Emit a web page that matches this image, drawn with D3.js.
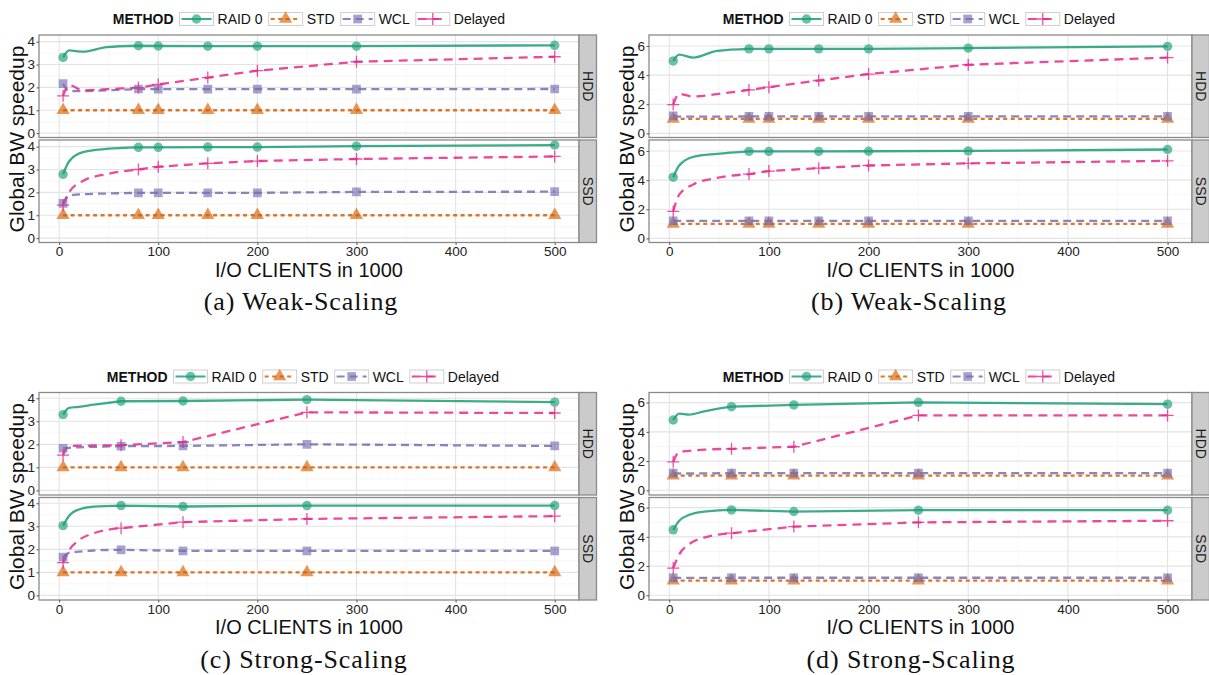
<!DOCTYPE html>
<html>
<head>
<meta charset="utf-8">
<script src="https://cdn.jsdelivr.net/npm/d3@7"></script>
<style>
  body { margin: 0; background: #fff; }
  text { font-family: "Liberation Sans", Arial, sans-serif; }
</style>
</head>
<body>
<div id="visualization"></div>
<script>
const methods = ["RAID 0", "STD", "WCL", "Delayed"];
const devices = ["HDD", "SSD"];

// x values in 1000 clients; marks = where the points are drawn
const weakX = [4, 10, 24, 48, 80, 100, 150, 200, 300, 500];
const weakMarks = [4, 80, 100, 150, 200, 300, 500];
const strongX = [4, 10, 20, 35, 62.5, 125, 250, 500];
const strongMarks = [4, 62.5, 125, 250, 500];
const xTicks = [0, 100, 200, 300, 400, 500];
const yTicks4 = [0, 1, 2, 3, 4];
const yTicks6 = [0, 2, 4, 6];

// (a) weak scaling
const aHddRaid    = [3.31, 3.62, 3.56, 3.76, 3.82, 3.81, 3.80, 3.80, 3.80, 3.84];
const aHddStd     = [1, 1, 1, 1, 1, 1, 1, 1, 1, 1];
const aHddWcl     = [2.16, 1.84, 1.84, 1.87, 1.93, 1.92, 1.92, 1.92, 1.92, 1.93];
const aHddDelayed = [1.63, 2.10, 1.87, 1.92, 1.99, 2.13, 2.43, 2.73, 3.12, 3.34];
const aSsdRaid    = [2.79, 3.35, 3.76, 3.90, 3.97, 3.97, 3.98, 3.98, 4.02, 4.07];
const aSsdStd     = [1, 1, 1, 1, 1, 1, 1, 1, 1, 1];
const aSsdWcl     = [1.52, 1.86, 1.92, 1.95, 1.98, 1.98, 1.98, 1.98, 2.02, 2.03];
const aSsdDelayed = [1.44, 2.00, 2.50, 2.80, 3.00, 3.12, 3.27, 3.37, 3.46, 3.57];

// (b) weak scaling
const bHddRaid    = [4.97, 5.40, 5.20, 5.66, 5.80, 5.80, 5.80, 5.80, 5.85, 5.97];
const bHddStd     = [1, 1, 1, 1, 1, 1, 1, 1, 1, 1];
const bHddWcl     = [1.20, 1.15, 1.15, 1.15, 1.17, 1.17, 1.17, 1.17, 1.17, 1.17];
const bHddDelayed = [1.98, 2.71, 2.53, 2.70, 2.98, 3.17, 3.63, 4.07, 4.71, 5.20];
const bSsdRaid    = [4.20, 5.00, 5.60, 5.80, 5.97, 5.97, 5.97, 5.98, 6.00, 6.10];
const bSsdStd     = [1, 1, 1, 1, 1, 1, 1, 1, 1, 1];
const bSsdWcl     = [1.20, 1.20, 1.20, 1.20, 1.20, 1.20, 1.20, 1.20, 1.20, 1.20];
const bSsdDelayed = [1.85, 3.00, 3.70, 4.15, 4.41, 4.62, 4.82, 5.00, 5.15, 5.32];

// (c) strong scaling
const cHddRaid    = [3.29, 3.58, 3.63, 3.72, 3.87, 3.88, 3.94, 3.83];
const cHddStd     = [1, 1, 1, 1, 1, 1, 1, 1];
const cHddWcl     = [1.83, 1.85, 1.87, 1.89, 1.92, 1.93, 2.00, 1.93];
const cHddDelayed = [1.53, 1.93, 1.94, 1.95, 1.96, 2.10, 3.39, 3.36];
const cSsdRaid    = [3.03, 3.45, 3.73, 3.85, 3.90, 3.86, 3.90, 3.90];
const cSsdStd     = [1, 1, 1, 1, 1, 1, 1, 1];
const cSsdWcl     = [1.66, 1.85, 1.90, 1.95, 1.98, 1.93, 1.93, 1.93];
const cSsdDelayed = [1.42, 1.95, 2.40, 2.70, 2.92, 3.18, 3.32, 3.44];

// (d) strong scaling
const dHddRaid    = [4.81, 5.25, 5.18, 5.40, 5.72, 5.84, 6.02, 5.89];
const dHddStd     = [1, 1, 1, 1, 1, 1, 1, 1];
const dHddWcl     = [1.18, 1.15, 1.15, 1.16, 1.17, 1.18, 1.18, 1.18];
const dHddDelayed = [1.95, 2.63, 2.70, 2.78, 2.84, 2.98, 5.12, 5.12];
const dSsdRaid    = [4.48, 5.10, 5.50, 5.72, 5.84, 5.73, 5.82, 5.82];
const dSsdStd     = [1, 1, 1, 1, 1, 1, 1, 1];
const dSsdWcl     = [1.20, 1.20, 1.20, 1.20, 1.20, 1.20, 1.20, 1.20];
const dSsdDelayed = [1.86, 2.80, 3.50, 3.95, 4.25, 4.70, 4.99, 5.10];

const colors = ["#1b9e77", "#d95f02", "#7570b3", "#e7298a"];
const dashes = [null, "4,3.5", "8,5", "9,6"];

const panels = [
    {caption: "(a) Weak-Scaling", xs: weakX, marks: weakMarks, yTicks: yTicks4, yDomain: [-0.19, 4.29],
     HDD: [aHddRaid, aHddStd, aHddWcl, aHddDelayed], SSD: [aSsdRaid, aSsdStd, aSsdWcl, aSsdDelayed],
     left: 39, width: 540, top: 0, legendX: 312, capX: 301},
    {caption: "(b) Weak-Scaling", xs: weakX, marks: weakMarks, yTicks: yTicks6, yDomain: [-0.28, 6.75],
     HDD: [bHddRaid, bHddStd, bHddWcl, bHddDelayed], SSD: [bSsdRaid, bSsdStd, bSsdWcl, bSsdDelayed],
     left: 649, width: 543, top: 0, legendX: 922, capX: 909},
    {caption: "(c) Strong-Scaling", xs: strongX, marks: strongMarks, yTicks: yTicks4, yDomain: [-0.2, 4.25],
     HDD: [cHddRaid, cHddStd, cHddWcl, cHddDelayed], SSD: [cSsdRaid, cSsdStd, cSsdWcl, cSsdDelayed],
     left: 39, width: 540, top: 357.5, legendX: 306, capX: 304},
    {caption: "(d) Strong-Scaling", xs: strongX, marks: strongMarks, yTicks: yTicks6, yDomain: [-0.32, 6.69],
     HDD: [dHddRaid, dHddStd, dHddWcl, dHddDelayed], SSD: [dSsdRaid, dSsdStd, dSsdWcl, dSsdDelayed],
     left: 649, width: 543, top: 357.5, legendX: 922, capX: 911}
];

const width = 1209;
const height = 675;
const facetTop = [35, 140];
const facetH = 102.5;
const stripW = 17.5;

const svg = d3.select("#visualization")
    .append("svg")
    .attr("width", width)
    .attr("height", height);

function drawMarker(g, shape, color, x, y) {
    if (shape === 3) {
        g.append("path")
            .attr("d", `M${x - 6},${y}H${x + 6}M${x},${y - 6}V${y + 6}`)
            .attr("stroke", color).attr("stroke-width", 1.3).attr("opacity", 0.8);
        return;
    }
    const sym = [d3.symbolCircle, d3.symbolTriangle, d3.symbolSquare][shape];
    const size = [70, 76, 76][shape];
    g.append("path")
        .attr("d", d3.symbol().type(sym).size(size)())
        .attr("transform", `translate(${x},${y})`)
        .attr("fill", color)
        .attr("opacity", 0.65);
}

function drawLegend(cx, cy) {
    const lg = svg.append("g");
    let pos = 0;
    const title = lg.append("text").text("METHOD")
        .attr("x", pos).attr("y", cy + 5)
        .attr("font-size", 14).attr("font-weight", "bold").attr("fill", "#111");
    pos += title.node().getComputedTextLength() + 6;
    methods.forEach((m, i) => {
        lg.append("rect").attr("x", pos).attr("y", cy - 6.5)
            .attr("width", 34).attr("height", 13)
            .attr("fill", "#fff").attr("stroke", "#cfcfcf").attr("stroke-width", 1);
        lg.append("line").attr("x1", pos + 2).attr("x2", pos + 32)
            .attr("y1", cy).attr("y2", cy)
            .attr("stroke", colors[i]).attr("stroke-width", 2).attr("opacity", 0.85)
            .attr("stroke-dasharray", dashes[i]);
        drawMarker(lg, i, colors[i], pos + 17, cy);
        pos += 38;
        const t = lg.append("text").text(m)
            .attr("x", pos).attr("y", cy + 5)
            .attr("font-size", 14).attr("fill", "#111");
        pos += t.node().getComputedTextLength() + 6;
    });
    lg.attr("transform", `translate(${cx - pos / 2},0)`);
}

panels.forEach((p) => {
    const x = d3.scaleLinear().domain([-20.3, 524.5]).range([p.left, p.left + p.width]);
    const minorX = d3.range(50, 500, 100);
    const minorY = p.yTicks.slice(0, -1).map((t, i) => (t + p.yTicks[i + 1]) / 2)
        .concat([p.yTicks[p.yTicks.length - 1] + (p.yTicks[1] - p.yTicks[0]) / 2]);
    // smooth the early ramp, straight segments after the second marked point
    const split = p.xs.indexOf(p.marks[1]);

    devices.forEach((dev, di) => {
        const top = p.top + facetTop[di];
        const y = d3.scaleLinear().domain(p.yDomain).range([top + facetH, top]);
        const g = svg.append("g");
        const clipId = `clip-${p.caption.charAt(1)}-${dev}`;
        g.append("clipPath").attr("id", clipId)
            .append("rect").attr("x", p.left).attr("y", top).attr("width", p.width).attr("height", facetH);

        g.append("rect").attr("x", p.left).attr("y", top)
            .attr("width", p.width).attr("height", facetH).attr("fill", "#fff");

        const grid = g.append("g").attr("clip-path", `url(#${clipId})`);
        grid.selectAll(".mx").data(minorX).enter().append("line")
            .attr("x1", (d) => x(d)).attr("x2", (d) => x(d))
            .attr("y1", top).attr("y2", top + facetH)
            .attr("stroke", "#f2f2f2").attr("stroke-width", 0.6);
        grid.selectAll(".my").data(minorY).enter().append("line")
            .attr("x1", p.left).attr("x2", p.left + p.width)
            .attr("y1", (d) => y(d)).attr("y2", (d) => y(d))
            .attr("stroke", "#f2f2f2").attr("stroke-width", 0.6);
        grid.selectAll(".gx").data(xTicks).enter().append("line")
            .attr("x1", (d) => x(d)).attr("x2", (d) => x(d))
            .attr("y1", top).attr("y2", top + facetH)
            .attr("stroke", "#e3e3e3").attr("stroke-width", 1.1);
        grid.selectAll(".gy").data(p.yTicks).enter().append("line")
            .attr("x1", p.left).attr("x2", p.left + p.width)
            .attr("y1", (d) => y(d)).attr("y2", (d) => y(d))
            .attr("stroke", "#e3e3e3").attr("stroke-width", 1.1);

        // lines then points
        const series = p[dev];
        const plot = g.append("g").attr("clip-path", `url(#${clipId})`);
        const smooth = d3.line()
            .curve(d3.curveMonotoneX)
            .x((d) => x(d[0]))
            .y((d) => y(d[1]));
        series.forEach((vals, i) => {
            const pts = p.xs.map((xv, k) => [xv, vals[k]]);
            const d = smooth(pts.slice(0, split + 1)) +
                pts.slice(split + 1).map((q) => `L${x(q[0])},${y(q[1])}`).join("");
            plot.append("path")
                .attr("fill", "none")
                .attr("stroke", colors[i])
                .attr("stroke-width", 2.3)
                .attr("opacity", 0.85)
                .attr("stroke-dasharray", dashes[i])
                .attr("d", d);
        });
        series.forEach((vals, i) => {
            p.xs.forEach((xv, k) => {
                if (p.marks.includes(xv)) drawMarker(plot, i, colors[i], x(xv), y(vals[k]));
            });
        });

        // panel border
        g.append("rect").attr("x", p.left).attr("y", top)
            .attr("width", p.width).attr("height", facetH)
            .attr("fill", "none").attr("stroke", "#8a8a8a").attr("stroke-width", 1.3);

        // strip
        g.append("rect").attr("x", p.left + p.width).attr("y", top)
            .attr("width", stripW).attr("height", facetH)
            .attr("fill", "#cbcbcb").attr("stroke", "#8a8a8a").attr("stroke-width", 1.3);
        g.append("text").text(dev)
            .attr("transform", `translate(${p.left + p.width + stripW / 2},${top + facetH / 2}) rotate(90)`)
            .attr("text-anchor", "middle").attr("dy", "0.35em")
            .attr("font-size", 14).attr("fill", "#1a1a1a");

        // y axis
        const ya = g.append("g")
            .attr("transform", `translate(${p.left},0)`)
            .call(d3.axisLeft(y).tickValues(p.yTicks).tickFormat(d3.format("d")).tickSize(2.5).tickPadding(1.5));
        ya.select(".domain").remove();
        ya.selectAll("line").attr("stroke", "#555");
        ya.selectAll("text").attr("font-size", 13.5).attr("fill", "#222")
            .style("font-family", "'Liberation Sans', Arial, sans-serif");

        if (di === 1) {
            const xa = g.append("g")
                .attr("transform", `translate(0,${top + facetH})`)
                .call(d3.axisBottom(x).tickValues(xTicks).tickSize(2.5).tickPadding(1.5));
            xa.select(".domain").remove();
            xa.selectAll("line").attr("stroke", "#555");
            xa.selectAll("text").attr("font-size", 13.5).attr("fill", "#222")
                .style("font-family", "'Liberation Sans', Arial, sans-serif");
        }
    });

    // titles
    svg.append("text").text("I/O CLIENTS in 1000")
        .attr("x", p.left + p.width / 2).attr("y", p.top + 276.5)
        .attr("text-anchor", "middle").attr("font-size", 20).attr("fill", "#111");
    svg.append("text").text("Global BW speedup")
        .attr("transform", `translate(${p.left - 15.5},${p.top + 139}) rotate(-90)`)
        .attr("text-anchor", "middle").attr("font-size", 21).attr("fill", "#111");
    svg.append("text").text(p.caption)
        .attr("x", p.capX).attr("y", p.top + 310)
        .attr("text-anchor", "middle").attr("font-size", 26)
        .attr("letter-spacing", 0.9)
        .style("font-family", "'Liberation Serif', 'DejaVu Serif', serif")
        .attr("fill", "#111");

    drawLegend(p.legendX, p.top + 19);
});
</script>
</body>
</html>
